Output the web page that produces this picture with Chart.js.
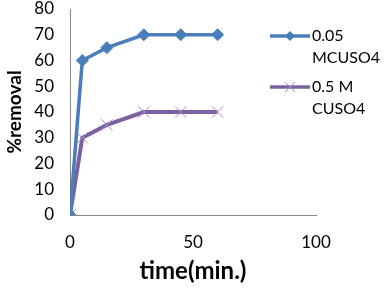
<!DOCTYPE html>
<html lang="en">
<head>
  <meta charset="UTF-8">
  <title>%removal vs time</title>
  <script src="https://cdn.jsdelivr.net/npm/chart.js"></script>
  <style>
    html, body { margin: 0; padding: 0; background: #fff; }
    #wrap { width: 385px; height: 290px; position: relative; }
  </style>
</head>
<body>
  <div id="wrap"><canvas id="myChart" width="385" height="290"></canvas></div>
  <script>
    // data
    const times = [0, 5, 15, 30, 45, 60];
    const removalLow = [0, 60, 65, 70, 70, 70];   // 0.05 MCUSO4
    const removalHigh = [0, 30, 35, 40, 40, 40];  // 0.5 M CUSO4
    const seriesNames = [['0.05', 'MCUSO4'], ['0.5 M', 'CUSO4']];

    const FONT = 'Lato, "Open Sans", sans-serif';

    const toPoints = (ys) => times.map((t, i) => ({ x: t, y: ys[i] }));

    // legend drawn at the right, with wrapped labels
    const sideLegend = {
      id: 'sideLegend',
      afterDraw(chart) {
        const c = chart.ctx;
        const rows = [
          { y: 36, color: '#4A7EBB', marker: 'diamond' },
          { y: 87, color: '#7D60A0', marker: 'x' }
        ];
        c.save();
        rows.forEach((r, i) => {
          c.strokeStyle = r.color;
          c.lineWidth = 3.5;
          c.beginPath();
          c.moveTo(270, r.y);
          c.lineTo(310, r.y);
          c.stroke();
          if (r.marker === 'diamond') {
            c.fillStyle = r.color;
            c.beginPath();
            c.moveTo(290, r.y - 5);
            c.lineTo(295, r.y);
            c.lineTo(290, r.y + 5);
            c.lineTo(285, r.y);
            c.closePath();
            c.fill();
          } else {
            c.strokeStyle = '#9D8FCC';
            c.lineWidth = 1;
            c.beginPath();
            c.moveTo(285, r.y - 5); c.lineTo(295, r.y + 5);
            c.moveTo(295, r.y - 5); c.lineTo(285, r.y + 5);
            c.stroke();
          }
          c.fillStyle = '#000';
          c.font = '16px ' + FONT;
          c.textBaseline = 'middle';
          c.textAlign = 'left';
          c.fillText(seriesNames[i][0], 312, r.y);
          c.fillText(seriesNames[i][1], 312, r.y + 22);
        });
        c.restore();
      }
    };

    const ctx = document.getElementById('myChart').getContext('2d');
    const myChart = new Chart(ctx, {
      type: 'scatter',
      data: {
        datasets: [{
          label: seriesNames[0].join(' '),
          data: toPoints(removalLow),
          showLine: true,
          borderColor: '#4A7EBB',
          backgroundColor: '#4A7EBB',
          borderWidth: 3.5,
          pointStyle: 'rectRot',
          pointRadius: 6,
          pointBorderWidth: 1
        }, {
          label: seriesNames[1].join(' '),
          data: toPoints(removalHigh),
          showLine: true,
          borderColor: '#7D60A0',
          backgroundColor: '#9D8FCC',
          borderWidth: 4,
          pointStyle: 'crossRot',
          pointRadius: 8,
          pointBorderWidth: 1,
          pointBorderColor: '#9D8FCC'
        }]
      },
      options: {
        responsive: false,
        animation: false,
        layout: { padding: { top: 9, right: 69, left: 0, bottom: 0 } },
        plugins: {
          legend: { display: false },
          tooltip: { enabled: false }
        },
        scales: {
          x: {
            type: 'linear',
            min: 0,
            max: 100,
            ticks: { stepSize: 50, color: '#000', padding: 17, font: { family: FONT, size: 17 } },
            grid: { display: false, drawTicks: false },
            border: { color: '#868686', width: 1 },
            title: {
              display: true,
              text: 'time(min.)',
              color: '#000',
              font: { family: FONT, size: 24, weight: 'bold' },
              padding: { top: 2 }
            },
            afterFit(scale) {
              scale.height = 75;
              scale.paddingLeft = 0;
              scale.paddingRight = 0;
            }
          },
          y: {
            min: 0,
            max: 80,
            ticks: { stepSize: 10, color: '#000', padding: 16, font: { family: FONT, size: 17 } },
            grid: { display: false, drawTicks: false },
            border: { color: '#868686', width: 1 },
            title: {
              display: true,
              text: '%removal',
              color: '#000',
              font: { family: FONT, size: 19, weight: 'bold' },
              padding: { top: 3, bottom: 0 }
            },
            afterFit(scale) {
              scale.width = 70;
              scale.paddingTop = 0;
              scale.paddingBottom = 0;
            }
          }
        }
      },
      plugins: [sideLegend]
    });
  </script>
</body>
</html>
